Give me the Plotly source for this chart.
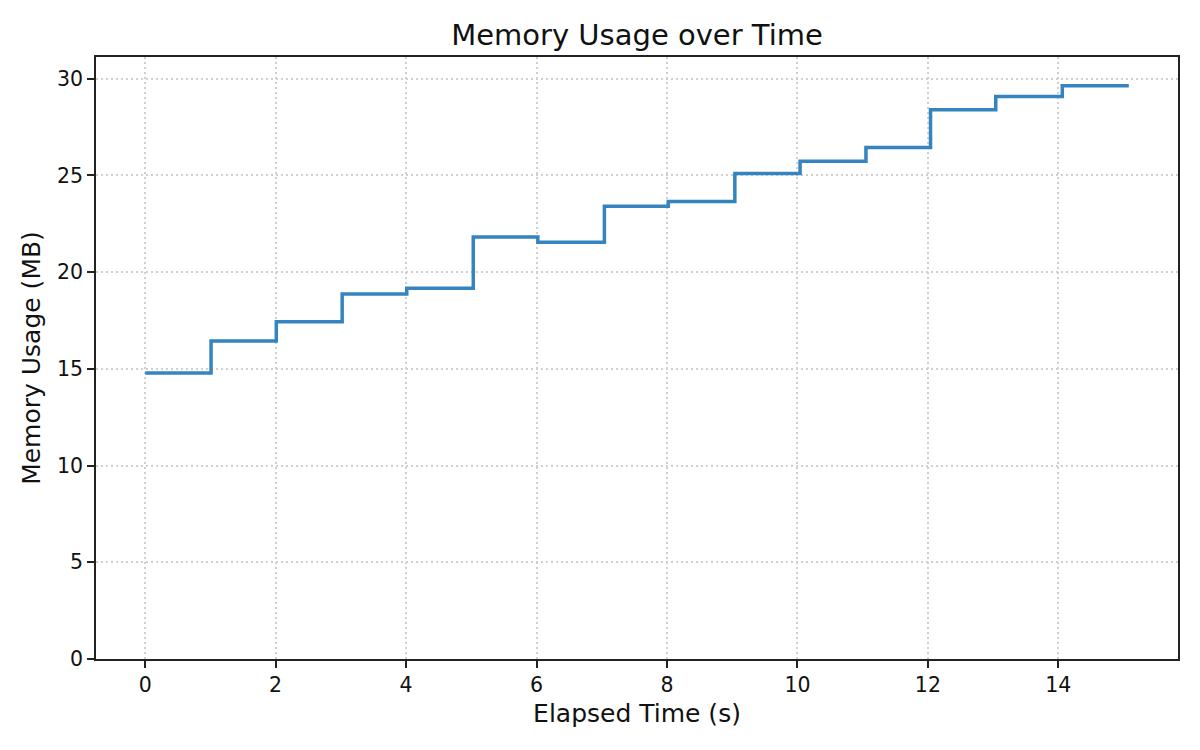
import plotly.graph_objects as go

elapsed_s = [0, 1.01, 2.01, 3.02, 4.01, 5.03, 6.02, 7.04, 8.02, 9.04, 10.04, 11.05, 12.04, 13.04, 14.06, 15.08]
memory_mb = [14.79, 16.44, 17.43, 18.87, 19.17, 21.81, 21.55, 23.41, 23.65, 25.10, 25.73, 26.44, 28.40, 29.08, 29.64, 29.64]

x_ticks = [0, 2, 4, 6, 8, 10, 12, 14]
y_ticks = [0, 5, 10, 15, 20, 25, 30]

W, H = 1192, 742  # page body has an 8px margin

fig = go.Figure()
fig.add_trace(go.Scatter(
    x=elapsed_s, y=memory_mb, mode="lines",
    line=dict(shape="hv", color="#3584bf", width=3.5),
    showlegend=False,
))

xpad = 0.05 * (max(elapsed_s) - min(elapsed_s))
font = "DejaVu Sans"
axis_common = dict(
    showline=True, linecolor="#222222", linewidth=1.6, mirror=True,
    ticks="outside", ticklen=7, tickwidth=1.6, tickcolor="#222222",
    showgrid=True, gridcolor="#cfcfcf", griddash="2px,3px", gridwidth=1.5,
    zeroline=False, tickfont=dict(size=20.5, color="#111111", family=font),
)
fig.update_layout(
    width=W, height=H,
    margin=dict(l=88, r=22, t=49, b=91),
    paper_bgcolor="white", plot_bgcolor="white",
    font=dict(family=font, color="#111111"),
    title=dict(text="Memory Usage over Time", x=0.5, xref="paper", xanchor="center",
               y=1 - 27 / H, yanchor="middle", font=dict(size=29, family=font)),
    xaxis=dict(range=[min(elapsed_s) - xpad, max(elapsed_s) + xpad],
               tickvals=x_ticks, title=dict(text="Elapsed Time (s)", font=dict(size=25), standoff=8),
               **axis_common),
    yaxis=dict(range=[0, max(memory_mb) * 1.05], tickvals=y_ticks,
               title=dict(text="Memory Usage (MB)", font=dict(size=25), standoff=9),
               **axis_common),
)
fig.write_html("out.html")
